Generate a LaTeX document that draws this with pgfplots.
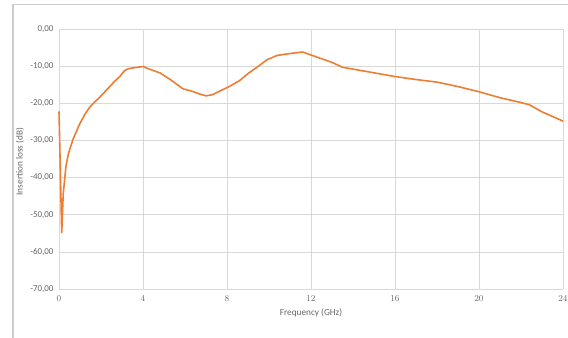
\documentclass[border=0pt]{standalone}
\usepackage{pgfplots}
\pgfplotsset{compat=1.18}
\usepackage{fontspec}
\setmainfont{Carlito}
\definecolor{lineorange}{HTML}{ED7D31}
\definecolor{gridgray}{HTML}{D9D9D9}
\definecolor{txtgray}{HTML}{666666}
\definecolor{framegray}{HTML}{CCCCCC}
\begin{document}
\begin{tikzpicture}
\path[use as bounding box] (-59bp,-49bp) rectangle (509bp,289bp);
\draw[framegray, line width=1.2bp] (-46bp,-49bp) -- (-46bp,284.5bp) -- (509bp,284.5bp);
\begin{axis}[
  at={(0,0)}, anchor=south west,
  scale only axis, width=504bp, height=260bp,
  xmin=0, xmax=24, ymin=-70, ymax=0,
  xtick={0,4,...,24},
  ytick={-70,-60,...,0},
  yticklabels={{-70,00},{-60,00},{-50,00},{-40,00},{-30,00},{-20,00},{-10,00},{0,00}},
  grid=major,
  major grid style={gridgray, line width=0.6bp},
  axis line style={draw=none},
  major tick length=0pt,
  tick label style={font=\fontsize{9}{10}\selectfont, text=txtgray},
  xticklabel style={yshift=-3bp},
  yticklabel style={xshift=-2bp},
  label style={font=\fontsize{9.3}{10}\selectfont, text=txtgray},
  xlabel={Frequency (GHz)},
  ylabel={Insertion loss (dB)},
  xlabel style={at={(axis description cs:0.5,0)}, anchor=center, yshift=-24bp},
  ylabel style={at={(axis description cs:-0.0774,0.49)}, anchor=center},
  clip=false,
]
\addplot[lineorange, line width=1.6bp, line join=round] coordinates {
(0,-22.2)
(0.13,-54.8)
(0.2,-44.5)
(0.33,-37)
(0.45,-33.5)
(0.68,-29.5)
(1.0,-25.4)
(1.25,-22.8)
(1.5,-20.8)
(1.95,-18.3)
(2.4,-15.6)
(2.7,-13.8)
(2.9,-12.8)
(3.1,-11.3)
(3.3,-10.7)
(3.6,-10.4)
(4.0,-10.1)
(4.3,-10.8)
(4.8,-11.8)
(5.3,-13.6)
(5.9,-16.1)
(6.3,-16.7)
(6.7,-17.5)
(7.0,-18.0)
(7.3,-17.7)
(7.7,-16.6)
(8.2,-15.2)
(8.6,-13.9)
(9.0,-12.0)
(9.5,-10.0)
(9.9,-8.3)
(10.4,-7.1)
(11.0,-6.6)
(11.6,-6.2)
(12.0,-7.0)
(12.5,-8.0)
(13.0,-9.0)
(13.5,-10.3)
(14.0,-10.8)
(15.0,-11.8)
(16.0,-12.8)
(17.0,-13.6)
(18.0,-14.3)
(19.0,-15.5)
(20.0,-16.9)
(21.0,-18.5)
(22.0,-19.8)
(22.4,-20.4)
(23.0,-22.3)
(24.0,-24.8)
};
\end{axis}
\end{tikzpicture}
\end{document}
